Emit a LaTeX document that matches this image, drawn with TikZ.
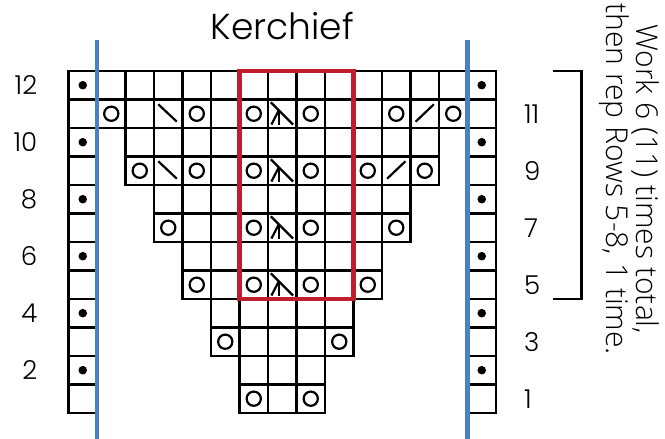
\documentclass[tikz,border=0pt]{standalone}
\usepackage{fontspec}
\IfFontExistsTF{Poppins Light}{\setmainfont{Poppins Light}}{\setmainfont{Poppins}}
\IfFontExistsTF{Open Sans Light}{\newfontfamily\notefont{Open Sans Light}}{\newfontfamily\notefont{Open Sans}}
\usetikzlibrary{positioning}
\definecolor{chartred}{HTML}{BE1E2D}
\definecolor{chartblue}{HTML}{4A80C4}

\begin{document}
\begin{tikzpicture}[
		cellbox/.style={draw=black,line width=2.4pt},
		yo/.style={draw=black,line width=2.2pt},
		dec/.style={draw=black,line width=2.2pt},
		purl/.style={fill=black},
		rownum/.style={font=\fontsize{26}{26}\selectfont,inner sep=0pt},
		rep/.style={draw=chartred,line width=4.5pt},
		edge/.style={draw=chartblue,line width=4pt}
		]
		\useasboundingbox (-2.404,-0.912) rectangle (20.93,14.49);
		
		% cells of each row, plus the two edge stitches
		\foreach \r/\a/\b in {12/1/15,11/1/15,10/3/13,9/3/13,8/4/12,7/4/12,6/5/11,5/5/11,4/6/10,3/6/10,2/7/9,1/7/9}{
			\foreach \c in {\a,...,\b}
				\draw[cellbox] (\c-1,\r-1) rectangle (\c,\r);
			\draw[cellbox] (0,\r-1) rectangle (1,\r);
			\draw[cellbox] (14,\r-1) rectangle (15,\r);
		}
		
		% purl dots on edge stitches
		\foreach \r in {2,4,...,12}{
			\fill[purl] (0.5,\r-0.5) circle (0.15);
			\fill[purl] (14.5,\r-0.5) circle (0.15);
		}
		
		% yarn overs
		\foreach \r/\cs in {11/{2,5,7,9,12,14},9/{3,5,7,9,11,13},7/{4,7,9,12},5/{5,7,9,11},3/{6,10},1/{7,9}}
			\foreach \c in \cs
				\draw[yo] (\c-0.5,\r-0.5) circle (0.25);
		
		% ssk and k2tog
		\draw[dec] (3.15,10.83) -- (3.8,10.22);
		\draw[dec] (3.15,8.83) -- (3.8,8.22);
		\draw[dec] (12.18,10.22) -- (12.82,10.83);
		\draw[dec] (11.18,8.22) -- (11.82,8.83);
		
		% sk2p
		\foreach \y in {10,8,6,4}{
			\draw[dec] (7.1,\y+0.9) -- (7.88,\y+0.12);
			\draw[dec] (7.38,\y+0.62) -- (7.38,\y+0.1);
			\draw[dec] (7.38,\y+0.62) -- (7.12,\y+0.12);
		}
		
		\draw[rep] (6,4) rectangle (10,12);
		\draw[edge] (1,-0.912) -- (1,13.09);
		\draw[edge] (14,-0.912) -- (14,13.09);
		\draw[line width=2.6pt] (17,12) -- (18,12) -- (18,4) -- (17,4);
		
		\foreach \r in {2,4,...,12}
			\node[rownum,anchor=east] (ws\r) at (-1.09,\r-0.5) {\r};
		\foreach \r in {1,3,...,11}
			\node[rownum,anchor=west] (rs\r) at (15.98,\r-0.5) {\r};
		
		\node[font=\fontsize{36}{36}\selectfont,anchor=base] (title) at (7.5,13.09) {Kerchief};
		\node[rotate=-90,align=center,font=\notefont\fontsize{30}{30}\selectfont] (note) at (19.68,8.2) {Work 6 (11) times total,\\then rep Rows 5-8, 1 time.};
	\end{tikzpicture}
\end{document}
